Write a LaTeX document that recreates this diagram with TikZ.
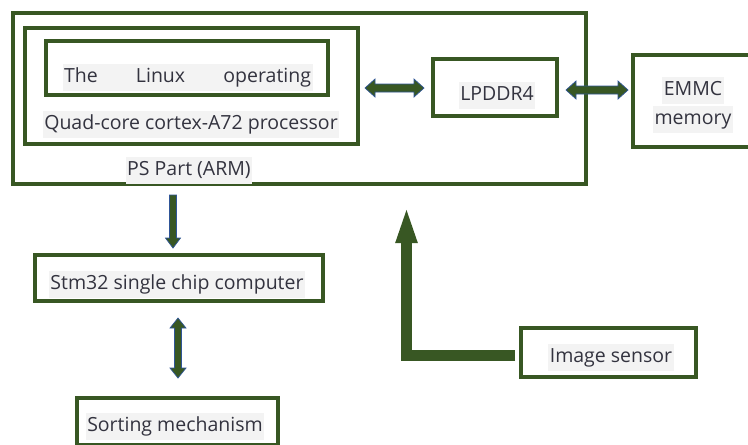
\documentclass[tikz,border=0pt]{standalone}
\usepackage{fontspec}
\setmainfont{Open Sans}
\usetikzlibrary{calc,arrows.meta}

\definecolor{boxgreen}{HTML}{385723}
\definecolor{arrowedge}{HTML}{2F5597}
\definecolor{txt}{HTML}{33333F}
\definecolor{txtbg}{HTML}{F3F3F3}

\tikzset{
  blk/.style={draw=boxgreen, line width=4pt, inner sep=0pt, outer sep=0pt},
  lbl/.style={fill=txtbg, text=txt, font=\fontsize{19.5}{22}\selectfont,
    inner xsep=1.5pt, inner ysep=4pt, text height=14.5pt, text depth=4.5pt},
  arrowbody/.style={fill=boxgreen, draw=arrowedge, line width=0.7pt, line join=miter},
  feedline/.style={draw=boxgreen, line width=11pt, line join=miter,
    -{Triangle[length=38pt, width=19pt]}}
}

% horizontal block arrow with two heads: #1 left tip, #2 right tip
\newcommand\dualarrowh[2]{%
  \filldraw[arrowbody] (#1) -- ++(10,-9) -- ++(0,5) -- ($(#2)+(-10,-4)$) -- ++(0,-5)
    -- (#2) -- ++(-10,9) -- ++(0,-5) -- ($(#1)+(10,4)$) -- ++(0,5) -- cycle;}
% vertical block arrow with two heads: #1 top tip, #2 bottom tip
\newcommand\dualarrowv[2]{%
  \filldraw[arrowbody] (#1) -- ++(-8,10) -- ++(4.5,0) -- ($(#2)+(-3.5,-10)$) -- ++(-4.5,0)
    -- (#2) -- ++(8,-10) -- ++(-4.5,0) -- ($(#1)+(3.5,10)$) -- ++(4.5,0) -- cycle;}
% downward block arrow: #1 tail centre, #2 tip
\newcommand\downblk[2]{%
  \filldraw[arrowbody] ($(#1)+(-3.5,0)$) -- ($(#2)+(-3.5,-10)$) -- ++(-4,0) -- (#2)
    -- ++(7.5,-10) -- ++(-4,0) -- ($(#1)+(3.5,0)$) -- cycle;}

\begin{document}
\begin{tikzpicture}[x=1pt, y=-1pt]
  \useasboundingbox (0,0) rectangle (748,445);
  \clip (0,0) rectangle (748,445);

  % boxes
  \node[blk, minimum width=573pt, minimum height=171pt] (ps)     at (299.5,98.5) {};
  \node[blk, minimum width=333pt, minimum height=116pt] (proc)   at (191.5,86) {};
  \node[blk, minimum width=282pt, minimum height=54pt]  (linux)  at (187,68) {};
  \node[blk, minimum width=124pt, minimum height=57pt]  (lp)     at (495,87.5) {};
  \node[blk, minimum width=125pt, minimum height=92pt]  (emmc)   at (695.5,101) {};
  \node[blk, minimum width=288pt, minimum height=46pt]  (stm)    at (179,278) {};
  \node[blk, minimum width=201pt, minimum height=47pt]  (sort)   at (177.5,421.5) {};
  \node[blk, minimum width=175pt, minimum height=49pt]  (sensor) at (608.5,352.5) {};

  % labels (centre = baseline - 5pt)
  \node[lbl] (linuxtxt) at (187.5,77) {\makebox[247pt][s]{The Linux operating}};
  \node[lbl] (proctxt)  at (191,124) {Quad-core cortex-A72 processor};
  \node[lbl] (pstxt)    at (189,170) {PS Part (ARM)};
  \node[lbl] (lptxt)    at (497,95) {LPDDR4};
  \node[lbl] (emmctxt1) at (693,90.5) {EMMC};
  \node[lbl] (emmctxt2) at (693,119.5) {memory};
  \node[lbl] (stmtxt)   at (177,284.5) {Stm32 single chip computer};
  \node[lbl] (sorttxt)  at (175,426.5) {Sorting mechanism};
  \node[lbl] (senstxt)  at (611,357.5) {Image sensor};

  % connector end points
  \coordinate (pa) at ($(proc.east)+(7,2)$);
  \coordinate (pb) at ($(lp.west)+(-9,0.5)$);
  \coordinate (ea) at ($(lp.east)+(9,2.5)$);
  \coordinate (eb) at ($(emmc.west)+(-5,-11)$);
  \coordinate (d1) at ($(stm.north)+(-6,-60)$);
  \coordinate (d2) at ($(stm.north)+(-6,-7)$);
  \coordinate (s1) at ($(stm.south)+(-1,17)$);
  \coordinate (s2) at ($(sort.north)+(0.5,-20)$);
  \coordinate (ls)   at ($(sensor.west)+(-6,2.5)$);
  \coordinate (ltip) at ($(ps.south west)+(393.5,21)$);

  % connectors
  \dualarrowh{pa}{pb}
  \dualarrowh{ea}{eb}
  \downblk{d1}{d2}
  \dualarrowv{s1}{s2}
  \draw[feedline] (ls) -| (ltip);
\end{tikzpicture}
\end{document}
